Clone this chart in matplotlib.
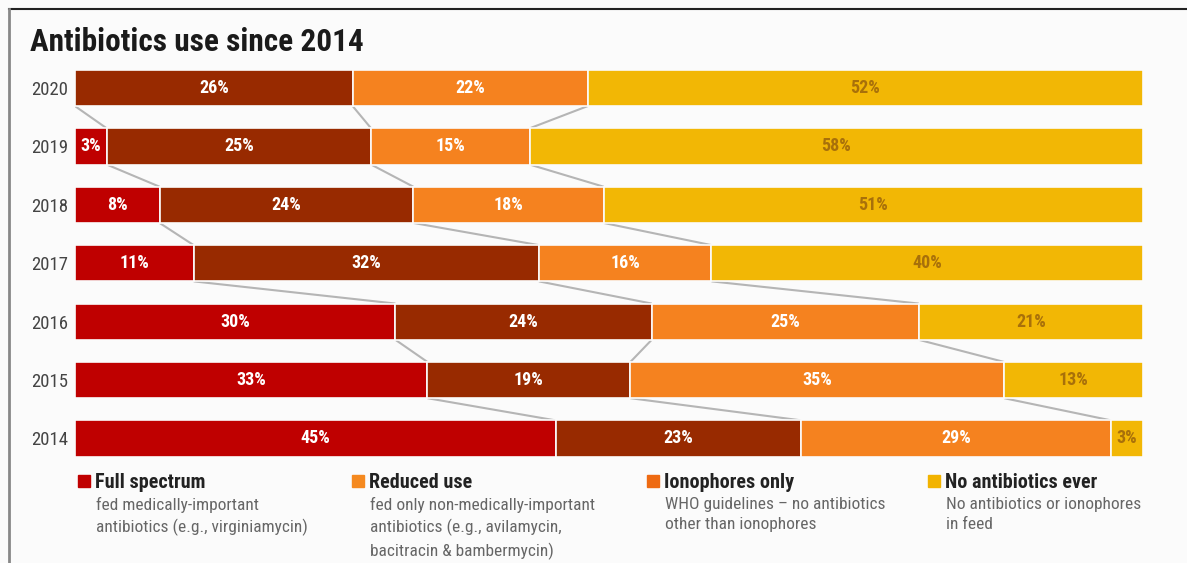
import matplotlib
matplotlib.use("Agg")
import matplotlib.pyplot as plt
from matplotlib import font_manager
import numpy as np

# data (top row first)
years = ["2020", "2019", "2018", "2017", "2016", "2015", "2014"]
full_spectrum = [0, 3, 8, 11, 30, 33, 45]
reduced_use = [26, 25, 24, 32, 24, 19, 23]
ionophores = [22, 15, 18, 16, 25, 35, 29]
no_antibiotics = [52, 58, 51, 40, 21, 13, 3]

legend_titles = ["Full spectrum", "Reduced use", "Ionophores only", "No antibiotics ever"]
legend_notes = [
    "fed medically-important\nantibiotics (e.g., virginiamycin)",
    "fed only non-medically-important\nantibiotics (e.g., avilamycin,\nbacitracin & bambermycin)",
    "WHO guidelines \u2013 no antibiotics\nother than ionophores",
    "No antibiotics or ionophores\nin feed",
]

bar_colors = ["#BF0000", "#982A00", "#F5821F", "#F2B705"]
legend_colors = ["#C00000", "#F5891F", "#EE6A12", "#F2B300"]
label_colors = ["white", "white", "white", "#A8700A"]

# pick a narrow font if there is one
names = {f.name for f in font_manager.fontManager.ttflist}
narrow = None
for cand in ["Roboto Condensed", "Liberation Sans Narrow", "Open Sans Condensed"]:
    if cand in names:
        narrow = cand
        break
if narrow is None:
    narrow = "DejaVu Sans"
    stretch = "condensed"
else:
    stretch = "normal"

W, H = 1187, 563
fig = plt.figure(figsize=(W / 100, H / 100), dpi=100)
fig.patch.set_facecolor("#FBFBFB")


def fx(x):
    return x / W


def fy(y):
    return 1 - y / H


ax = fig.add_axes([fx(75), fy(467.7), fx(1143) - fx(75), fy(58.8) - fy(467.7)])
ax.set_facecolor("none")

data = np.array([full_spectrum, reduced_use, ionophores, no_antibiotics], dtype=float).T
shares = data / data.sum(axis=1, keepdims=True)
cum = np.hstack([np.zeros((len(years), 1)), np.cumsum(shares, axis=1)])
ypos = np.arange(len(years))
h = 0.62

for k in range(4):
    ax.barh(ypos, shares[:, k], left=cum[:, k], height=h, color=bar_colors[k],
            edgecolor="#FBFBFB", linewidth=1.2)
    for i in range(len(years)):
        v = data[i, k]
        if v == 0:
            continue
        ax.text(cum[i, k] + shares[i, k] / 2, ypos[i], f"{int(v)}%",
                ha="center", va="center", fontsize=13, fontweight="bold",
                color=label_colors[k], family=narrow, fontstretch=stretch)

# connectors between bars
for i in range(len(years) - 1):
    for k in range(1, 4):
        ax.plot([cum[i, k], cum[i + 1, k]], [ypos[i] + h / 2, ypos[i + 1] - h / 2],
                color="#B5B5B5", lw=1.5, solid_capstyle="butt", zorder=0)

ax.set_xlim(0, 1)
ax.set_ylim(len(years) - 0.5, -0.5)
ax.set_yticks(ypos)
ax.set_yticklabels(years, fontsize=13.5, color="#444444", family=narrow, fontstretch=stretch)
ax.tick_params(axis="y", length=0, pad=5)
ax.set_xticks([])
for s in ax.spines.values():
    s.set_visible(False)

fig.text(fx(30), fy(42), "Antibiotics use since 2014", fontsize=22.5, fontweight="bold",
         color="#1A1A1A", va="center", ha="left", family=narrow, fontstretch=stretch)

# legend
sq_x = [78, 352, 647, 928]
for j in range(4):
    fig.patches.append(plt.Rectangle((fx(sq_x[j]), fy(487)), fx(12), 12 / H,
                                     transform=fig.transFigure, color=legend_colors[j]))
    fig.text(fx(sq_x[j] + 17), fy(482), legend_titles[j], fontsize=14.5, fontweight="bold",
             color="#222222", va="center", ha="left", family=narrow, fontstretch=stretch)
    fig.text(fx(sq_x[j] + 18), fy(497), legend_notes[j], fontsize=12.5, color="#666666",
             va="top", ha="left", linespacing=1.45, family=narrow, fontstretch=stretch)

# frame lines
fig.add_artist(plt.Line2D([fx(9), 1], [fy(9), fy(9)], color="#222222", lw=1.5))
fig.add_artist(plt.Line2D([fx(9), fx(9)], [fy(9), 0], color="#888888", lw=2))

fig.savefig("out.png", dpi=100, facecolor=fig.get_facecolor())
